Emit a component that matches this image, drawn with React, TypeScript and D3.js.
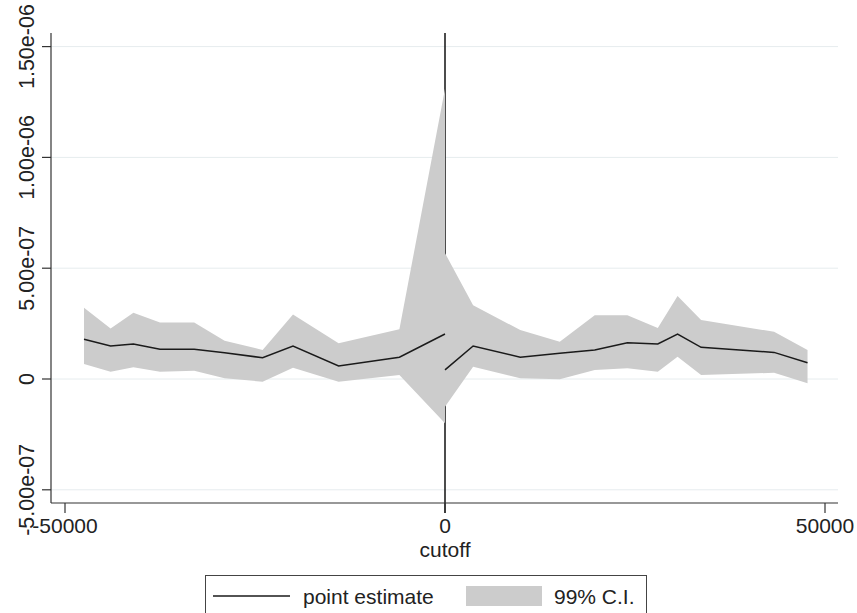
import React from "react";
import * as d3 from "d3";

// Left of cutoff
const leftX = [-47500, -44000, -41000, -37500, -33000, -29000, -24000, -20000, -14000, -6000, 0];
const leftEst = [1.79, 1.49, 1.58, 1.34, 1.34, 1.18, 0.96, 1.49, 0.59, 0.98, 2.03];
const leftHi = [3.21, 2.28, 2.99, 2.55, 2.55, 1.73, 1.31, 2.91, 1.61, 2.24, 13.1];
const leftLo = [0.68, 0.33, 0.53, 0.33, 0.37, 0.03, -0.12, 0.51, -0.12, 0.18, -2.0];

// Right of cutoff
const rightX = [0, 3700, 9900, 15100, 19700, 24000, 28000, 30600, 33700, 43300, 47700];
const rightEst = [0.41, 1.49, 0.98, 1.16, 1.31, 1.64, 1.58, 2.03, 1.43, 1.2, 0.73];
const rightHi = [5.68, 3.33, 2.21, 1.68, 2.88, 2.88, 2.3, 3.74, 2.66, 2.13, 1.31];
const rightLo = [-1.25, 0.55, 0.03, -0.01, 0.41, 0.48, 0.33, 1.0, 0.18, 0.28, -0.19];

const SCALE = 1e-7;
const yTicks = [-5e-7, 0, 5e-7, 1e-6, 1.5e-6];
const yTickLabels = ["-5.00e-07", "0", "5.00e-07", "1.00e-06", "1.50e-06"];
const xTicks = [-50000, 0, 50000];
const xTickLabels = ["-50000", "0", "50000"];

const W = 857;
const H = 613;
const FONT = "'Liberation Sans', Arial, sans-serif";

export default function App() {
  const x = d3.scaleLinear().domain([-50000, 50000]).range([65, 825]);
  const y = d3.scaleLinear().domain([0, 5e-7]).range([379, 268.2]);
  const plotLeft = 51;
  const plotRight = 838;
  const plotTop = 33;
  const plotBottom = 503;

  const mk = (xs: number[], hi: number[], lo: number[]) =>
    xs.map((v, i) => ({ x: v, hi: hi[i] * SCALE, lo: lo[i] * SCALE }));
  const area = d3
    .area<{ x: number; hi: number; lo: number }>()
    .x((d) => x(d.x))
    .y0((d) => y(d.lo))
    .y1((d) => y(d.hi));
  const line = d3
    .line<{ x: number; v: number }>()
    .x((d) => x(d.x))
    .y((d) => y(d.v));
  const mkL = (xs: number[], e: number[]) => xs.map((v, i) => ({ x: v, v: e[i] * SCALE }));

  return (
    <svg width={W} height={H} style={{ position: "absolute", left: 0, top: 0, background: "#fff" }}>
      <rect x={0} y={0} width={W} height={H} fill="#fff" />
      {yTicks.map((t) => (
        <line key={"g" + t} x1={plotLeft} x2={plotRight} y1={y(t)} y2={y(t)} stroke="#e6ecee" strokeWidth={1} />
      ))}
      {/* cutoff line */}
      <line x1={x(0)} x2={x(0)} y1={plotTop} y2={plotBottom + 10} stroke="#111" strokeWidth={1.5} />
      <path d={area(mk(leftX, leftHi, leftLo)) || ""} fill="#cccccc" />
      <path d={area(mk(rightX, rightHi, rightLo)) || ""} fill="#cccccc" />
      <path d={line(mkL(leftX, leftEst)) || ""} fill="none" stroke="#1a1a1a" strokeWidth={1.5} />
      <path d={line(mkL(rightX, rightEst)) || ""} fill="none" stroke="#1a1a1a" strokeWidth={1.5} />
      {/* axes */}
      <line x1={plotLeft} x2={plotLeft} y1={plotTop} y2={plotBottom} stroke="#333" strokeWidth={1.2} />
      <line x1={plotLeft} x2={plotRight} y1={plotBottom} y2={plotBottom} stroke="#333" strokeWidth={1.2} />
      {yTicks.map((t, i) => (
        <g key={"yt" + t}>
          <line x1={plotLeft - 9} x2={plotLeft} y1={y(t)} y2={y(t)} stroke="#333" strokeWidth={1.2} />
          <text
            transform={`translate(26,${y(t)}) rotate(-90)`}
            textAnchor="middle"
            dy="0.35em"
            fontFamily={FONT}
            fontSize={21.5}
            fill="#222"
          >
            {yTickLabels[i]}
          </text>
        </g>
      ))}
      {xTicks.map((t, i) => (
        <g key={"xt" + t}>
          <line x1={x(t)} x2={x(t)} y1={plotBottom} y2={plotBottom + 10} stroke="#333" strokeWidth={1.2} />
          <text x={x(t)} y={533} textAnchor="middle" fontFamily={FONT} fontSize={21} fill="#222">
            {xTickLabels[i]}
          </text>
        </g>
      ))}
      <text x={x(0)} y={557} textAnchor="middle" fontFamily={FONT} fontSize={21} fill="#222">
        cutoff
      </text>
      {/* legend */}
      <rect x={205.5} y={575.5} width={441} height={60} fill="none" stroke="#444" strokeWidth={1} />
      <line x1={213} x2={290} y1={596} y2={596} stroke="#1a1a1a" strokeWidth={1.5} />
      <text x={303} y={604} fontFamily={FONT} fontSize={21} fill="#222">
        point estimate
      </text>
      <rect x={466} y={586} width={76} height={20} fill="#cccccc" />
      <text x={554} y={604} fontFamily={FONT} fontSize={21} fill="#222">
        99% C.I.
      </text>
    </svg>
  );
}
